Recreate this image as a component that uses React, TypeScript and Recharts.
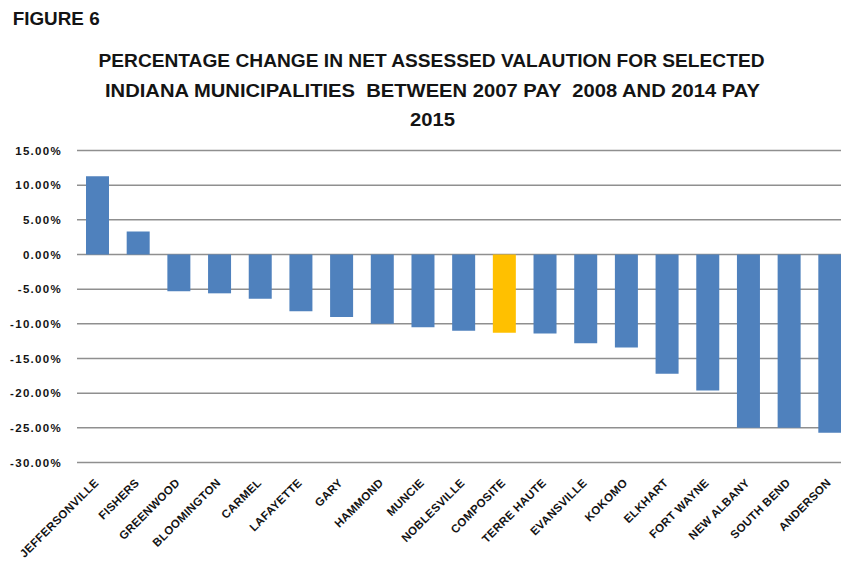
import React from 'react';
import { BarChart, Bar, XAxis, YAxis, CartesianGrid, Cell } from 'recharts';

const categories = [
  'JEFFERSONVILLE', 'FISHERS', 'GREENWOOD', 'BLOOMINGTON', 'CARMEL', 'LAFAYETTE', 'GARY',
  'HAMMOND', 'MUNCIE', 'NOBLESVILLE', 'COMPOSITE', 'TERRE HAUTE', 'EVANSVILLE', 'KOKOMO',
  'ELKHART', 'FORT WAYNE', 'NEW ALBANY', 'SOUTH BEND', 'ANDERSON',
];
const changePct = [
  11.3, 3.3, -5.3, -5.6, -6.4, -8.2, -9.0, -10.0, -10.5, -11.0, -11.3, -11.4, -12.8, -13.4,
  -17.2, -19.6, -25.0, -25.0, -25.7,
];
const yTicks = [15, 10, 5, 0, -5, -10, -15, -20, -25, -30];
const highlightCategory = 'COMPOSITE';
const figureLabel = 'FIGURE 6';
const titleLines = [
  'PERCENTAGE CHANGE IN NET ASSESSED VALAUTION FOR SELECTED',
  'INDIANA MUNICIPALITIES  BETWEEN 2007 PAY  2008 AND 2014 PAY',
  '2015',
];

const data = categories.map((name, i) => ({ name, value: changePct[i] }));

const BLUE = '#4F81BD';
const GOLD = '#FFC000';
const TXT = '#141414';
const SANS = "'Liberation Sans', Arial, sans-serif";

const XTick = (props: any) => {
  const { x, y, payload } = props;
  const ax = x + 2;
  const ay = y + 21;
  return (
    <text
      x={ax}
      y={ay}
      transform={`rotate(-45, ${ax}, ${ay})`}
      textAnchor="end"
      fontSize={11.5}
      fontWeight="bold"
      fontFamily={SANS}
      letterSpacing={0.3}
      fill={TXT}
    >
      {payload.value}
    </text>
  );
};

const YTick = (props: any) => {
  const { x, y, payload } = props;
  return (
    <text
      x={x - 15}
      y={y}
      dy="0.36em"
      textAnchor="end"
      fontSize={11.5}
      fontWeight="bold"
      fontFamily={SANS}
      letterSpacing={1.3}
      fill={TXT}
    >
      {`${Number(payload.value).toFixed(2)}%`}
    </text>
  );
};

export default function App() {
  return (
    <div
      style={{
        position: 'absolute',
        left: 0,
        top: 0,
        width: 841,
        height: 562,
        overflow: 'hidden',
        background: '#ffffff',
      }}
    >
      <div style={{ position: 'absolute', left: 0, top: 0 }}>
        <BarChart
          width={860}
          height={562}
          data={data}
          margin={{ top: 150.5, right: 10, bottom: 0, left: 0 }}
        >
          <CartesianGrid vertical={false} stroke="#8f8f8f" strokeWidth={1.5} />
          <XAxis
            dataKey="name"
            interval={0}
            tick={<XTick />}
            axisLine={false}
            tickLine={false}
            tickSize={0}
            tickMargin={0}
            height={99.5}
          />
          <YAxis
            type="number"
            domain={[-30, 15]}
            ticks={yTicks}
            interval={0}
            tick={<YTick />}
            axisLine={false}
            tickLine={false}
            tickSize={0}
            tickMargin={0}
            width={77}
          />
          <Bar dataKey="value" barSize={23} isAnimationActive={false}>
            {data.map((d) => (
              <Cell key={d.name} fill={d.name === highlightCategory ? GOLD : BLUE} />
            ))}
          </Bar>
        </BarChart>
      </div>
      <svg
        width={841}
        height={140}
        style={{ position: 'absolute', left: 0, top: 0, pointerEvents: 'none' }}
      >
        <text
          x={12.7}
          y={25}
          fontSize={18}
          fontWeight="bold"
          fontFamily={SANS}
          fill={TXT}
          textLength={87}
          lengthAdjust="spacingAndGlyphs"
        >
          {figureLabel}
        </text>
        <text
          x={98.5}
          y={67.3}
          fontSize={18.5}
          fontWeight="bold"
          fontFamily={SANS}
          fill={TXT}
          textLength={666}
          lengthAdjust="spacingAndGlyphs"
        >
          {titleLines[0]}
        </text>
        <text
          x={105}
          y={97}
          fontSize={18.5}
          fontWeight="bold"
          fontFamily={SANS}
          fill={TXT}
          textLength={655}
          lengthAdjust="spacingAndGlyphs"
          style={{ whiteSpace: 'pre' }}
        >
          {titleLines[1]}
        </text>
        <text
          x={410}
          y={126}
          fontSize={18.5}
          fontWeight="bold"
          fontFamily={SANS}
          fill={TXT}
          textLength={45}
          lengthAdjust="spacingAndGlyphs"
        >
          {titleLines[2]}
        </text>
      </svg>
    </div>
  );
}
